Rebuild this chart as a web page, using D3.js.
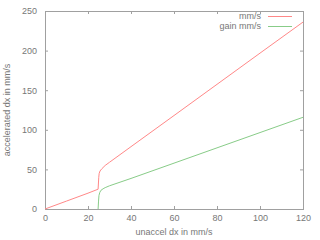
<!DOCTYPE html>
<html>
<head>
<meta charset="utf-8">
<script src="https://cdn.jsdelivr.net/npm/d3@7"></script>
<style>
  body { margin: 0; background: #fff; }
  text { font-family: "Liberation Sans", Arial, sans-serif; }
</style>
</head>
<body>
<div id="chart"></div>
<script>

// values
const accelX = [0, 10, 20, 24.7, 25, 25.2, 25.6, 26.5, 28, 30, 40, 60, 80, 100, 120];
const accelY = [0, 10, 20, 25, 40, 45, 48, 51, 55, 59, 78.7, 118, 157.4, 196.8, 236];
const gainX = [24.7, 24.9, 25.1, 25.5, 26, 27, 28, 30, 40, 60, 80, 100, 120];
const gainY = [0, 10, 17, 21, 23.5, 25.5, 27, 29.3, 38.6, 57.9, 77.2, 96.5, 115.8];
const xTicks = [0, 20, 40, 60, 80, 100, 120];
const yTicks = [0, 50, 100, 150, 200, 250];
const seriesNames = ["mm/s", "gain mm/s"];
const seriesColors = ["#f88", "#8c8"];

function main() {

    const margin = {top: 11, right: 17, bottom: 31, left: 45},
        width = 320 - margin.left - margin.right,
        height = 240 - margin.top - margin.bottom;

    const svg = d3.select("#chart")
        .append("svg")
        .attr("width", 320)
        .attr("height", 240)
        .append("g")
        .attr("transform", `translate(${margin.left},${margin.top})`);

    const x = d3.scaleLinear().domain([0, 120]).range([0, width]);
    const y = d3.scaleLinear().domain([0, 250]).range([height, 0]);

    const grey = "#a0a0a0";
    const textCol = "#777";

    // bottom axis
    const xa = svg.append("g")
        .attr("transform", `translate(0,${height})`)
        .call(d3.axisBottom(x).tickValues(xTicks).tickSizeInner(-3).tickSizeOuter(0).tickPadding(6));
    // top mirror
    const xt = svg.append("g")
        .call(d3.axisTop(x).tickValues(xTicks).tickSizeInner(-3).tickSizeOuter(0).tickFormat(""));
    // left axis
    const ya = svg.append("g")
        .call(d3.axisLeft(y).tickValues(yTicks).tickSizeInner(-3).tickSizeOuter(0).tickPadding(8));
    // right mirror
    const yr = svg.append("g")
        .attr("transform", `translate(${width},0)`)
        .call(d3.axisRight(y).tickValues(yTicks).tickSizeInner(-3).tickSizeOuter(0).tickFormat(""));

    [xa, xt, ya, yr].forEach(function(g) {
        g.select(".domain").remove();
        g.selectAll("line").attr("stroke", grey);
        g.selectAll("text").attr("fill", textCol).attr("font-size", "9px")
            .attr("font-family", "Liberation Sans, Arial, sans-serif");
    });

    // border
    svg.append("rect")
        .attr("x", 0.5).attr("y", 0.5)
        .attr("width", width).attr("height", height)
        .attr("fill", "none")
        .attr("stroke", grey);

    // axis titles
    svg.append("text")
        .attr("x", width / 2)
        .attr("y", height + 26)
        .attr("text-anchor", "middle")
        .attr("font-size", "9px")
        .attr("fill", textCol)
        .text("unaccel dx in mm/s");

    svg.append("text")
        .attr("transform", `translate(${-35},${height / 2}) rotate(-90)`)
        .attr("text-anchor", "middle")
        .attr("font-size", "9px")
        .attr("fill", textCol)
        .text("accelerated dx in mm/s");

    // lines
    const line = d3.line()
        .x(function(d) { return x(d[0]); })
        .y(function(d) { return y(d[1]); });

    const series = [
        d3.zip(accelX, accelY),
        d3.zip(gainX, gainY)
    ];

    series.forEach(function(s, i) {
        svg.append("path")
            .datum(s)
            .attr("fill", "none")
            .attr("stroke", seriesColors[i])
            .attr("stroke-width", 1)
            .attr("d", line);
    });

    // legend
    seriesNames.forEach(function(name, i) {
        const ly = 5 + i * 10;
        svg.append("text")
            .attr("x", 216)
            .attr("y", ly)
            .attr("dy", "0.32em")
            .attr("text-anchor", "end")
            .attr("font-size", "9px")
            .attr("fill", textCol)
            .text(name);
        svg.append("line")
            .attr("x1", 223).attr("x2", 247)
            .attr("y1", ly + 0.5).attr("y2", ly + 0.5)
            .attr("stroke", seriesColors[i]);
    });
}

main()

</script>
</body>
</html>
